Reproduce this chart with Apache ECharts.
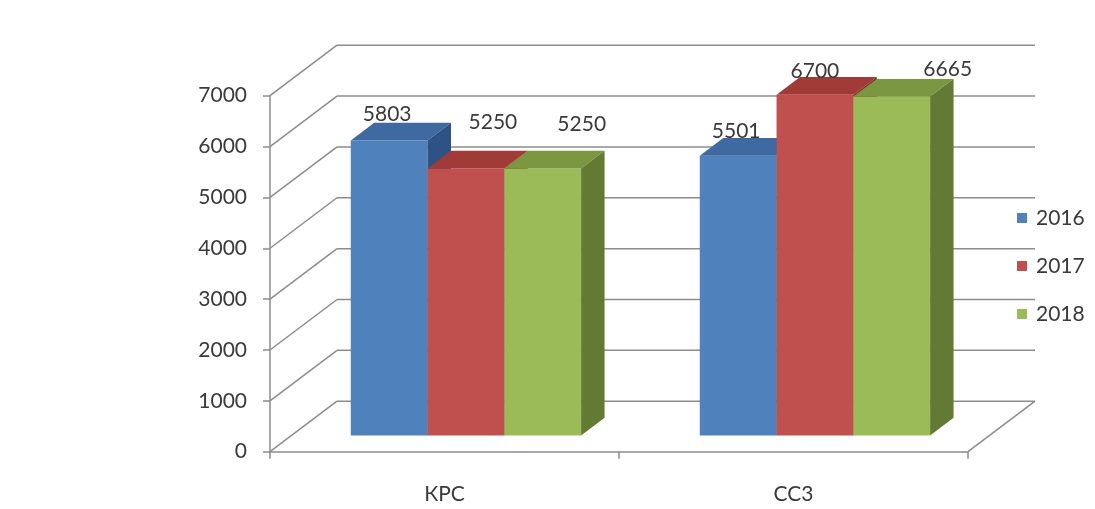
<!DOCTYPE html>
<html>
<head>
<meta charset="utf-8">
<script src="https://cdn.jsdelivr.net/npm/echarts@6/dist/echarts.min.js"></script>
<style>
  html, body { margin: 0; padding: 0; background: #ffffff; }
  #chart { width: 1095px; height: 509px; }
</style>
</head>
<body>
<div id="chart"></div>
<script>
// ---- data ----
const categories = ['КРС', 'СС3'];
const years = ['2016', '2017', '2018'];
const values2016 = [5803, 5501];
const values2017 = [5250, 6700];
const values2018 = [5250, 6665];
const yTicks = [0, 1000, 2000, 3000, 4000, 5000, 6000, 7000];

// ---- styling ----
const seriesValues = [values2016, values2017, values2018];
const faceColors = [
  { front: '#4F81BD', top: '#3E69A1', side: '#2D5283' },
  { front: '#C0504D', top: '#A03B38', side: '#8A2E2B' },
  { front: '#9BBB59', top: '#7B9741', side: '#627A33' }
];
// label nudges (px) from the top-front centre of each bar, per series / category
const labelNudge = [
  [[-2, -26], [-2, -25]],
  [[27, -46], [0, -24]],
  [[39, -44], [56, -27]]
];
const TEXT = '#3A3A3A';
const GRID_LINE = '#8C8C8C';
const FONT = 'Lato, "Open Sans", sans-serif';
const FONT_SIZE = 21;

// oblique depth of the floor (dx, dy in px) and where the bars sit in it
const DEPTH = [67, -50.5];
const BAR_FRONT = 0.32;
const BAR_DEPTH = 0.35;
const BAR_W = 0.22; // share of a category band per bar

function barRenderer(si) {
  return function (params, api) {
    const cat = api.value(0);
    const v = api.value(1);
    const band = api.size([1, 0])[0];
    const w = band * BAR_W;
    const top = api.coord([cat, v]);
    const base = api.coord([cat, 0]);
    const fx = DEPTH[0] * BAR_FRONT, fy = DEPTH[1] * BAR_FRONT;
    const dx = DEPTH[0] * BAR_DEPTH, dy = DEPTH[1] * BAR_DEPTH;
    const x0 = top[0] + (si - 1.5) * w + fx;
    const x1 = x0 + w;
    const yt = top[1] + fy;
    const yb = base[1] + fy;
    const c = faceColors[si];
    const nudge = labelNudge[si][params.dataIndex];
    return {
      type: 'group',
      children: [
        {
          type: 'polygon',
          shape: { points: [[x0, yt], [x1, yt], [x1, yb], [x0, yb]] },
          style: { fill: c.front }
        },
        {
          type: 'polygon',
          shape: { points: [[x0, yt], [x1, yt], [x1 + dx, yt + dy], [x0 + dx, yt + dy]] },
          style: { fill: c.top }
        },
        {
          type: 'polygon',
          shape: { points: [[x1, yt], [x1 + dx, yt + dy], [x1 + dx, yb + dy], [x1, yb]] },
          style: { fill: c.side }
        },
        {
          type: 'text',
          style: {
            text: String(v),
            x: (x0 + x1) / 2 + nudge[0],
            y: yt + nudge[1],
            align: 'center',
            verticalAlign: 'middle',
            fill: TEXT,
            fontSize: FONT_SIZE,
            fontFamily: FONT
          },
          z2: 10
        }
      ]
    };
  };
}

// back wall gridlines and the side-wall diagonals, one per value tick
function wallRenderer(params, api) {
  const cs = params.coordSys;
  const v = api.value(1);
  const y = api.coord([0, v])[1];
  const xl = cs.x, xr = cs.x + cs.width;
  const lineStyle = { stroke: GRID_LINE, lineWidth: 1.5 };
  const children = [
    { type: 'line', shape: { x1: xl, y1: y, x2: xl + DEPTH[0], y2: y + DEPTH[1] }, style: lineStyle },
    { type: 'line', shape: { x1: xl + DEPTH[0], y1: y + DEPTH[1], x2: xr + DEPTH[0], y2: y + DEPTH[1] }, style: lineStyle }
  ];
  if (v === 0) {
    children.push({ type: 'line', shape: { x1: xr, y1: y, x2: xr + DEPTH[0], y2: y + DEPTH[1] }, style: lineStyle });
  }
  return { type: 'group', children: children };
}

const chart = echarts.init(document.getElementById('chart'), null, { renderer: 'canvas' });

const series = [
  {
    type: 'custom',
    renderItem: wallRenderer,
    data: yTicks.map(v => [0, v]),
    encode: { x: 0, y: 1 },
    silent: true,
    z: 1
  }
];
seriesValues.forEach((vals, si) => {
  series.push({
    name: years[si],
    type: 'custom',
    renderItem: barRenderer(si),
    data: vals.map((v, i) => [i, v]),
    encode: { x: 0, y: 1 },
    itemStyle: { color: faceColors[si].front },
    z: 2
  });
});

chart.setOption({
  animation: false,
  backgroundColor: '#ffffff',
  grid: { left: 270, top: 95.7, width: 698, height: 356 },
  legend: {
    data: years,
    orient: 'vertical',
    left: 1012,
    top: 201,
    icon: 'rect',
    itemWidth: 10,
    itemHeight: 10,
    itemGap: 24,
    textStyle: { fontSize: FONT_SIZE, fontFamily: FONT, color: TEXT, lineHeight: 24, padding: [0, 0, 0, 4] }
  },
  xAxis: {
    type: 'category',
    data: categories,
    boundaryGap: true,
    axisLine: { show: true, lineStyle: { color: GRID_LINE, width: 1.5 } },
    axisTick: { show: true, length: 7, lineStyle: { color: GRID_LINE, width: 1.5 } },
    axisLabel: { margin: 32, fontSize: FONT_SIZE, fontFamily: FONT, color: TEXT },
    splitLine: { show: false }
  },
  yAxis: {
    type: 'value',
    min: 0,
    max: 7000,
    interval: 1000,
    axisLine: { show: true, lineStyle: { color: GRID_LINE, width: 1.5 } },
    axisTick: { show: true, length: 7, lineStyle: { color: GRID_LINE, width: 1.5 } },
    axisLabel: { margin: 23, fontSize: FONT_SIZE, fontFamily: FONT, color: TEXT, formatter: v => String(v) },
    splitLine: { show: false }
  },
  series: series
});
</script>
</body>
</html>
